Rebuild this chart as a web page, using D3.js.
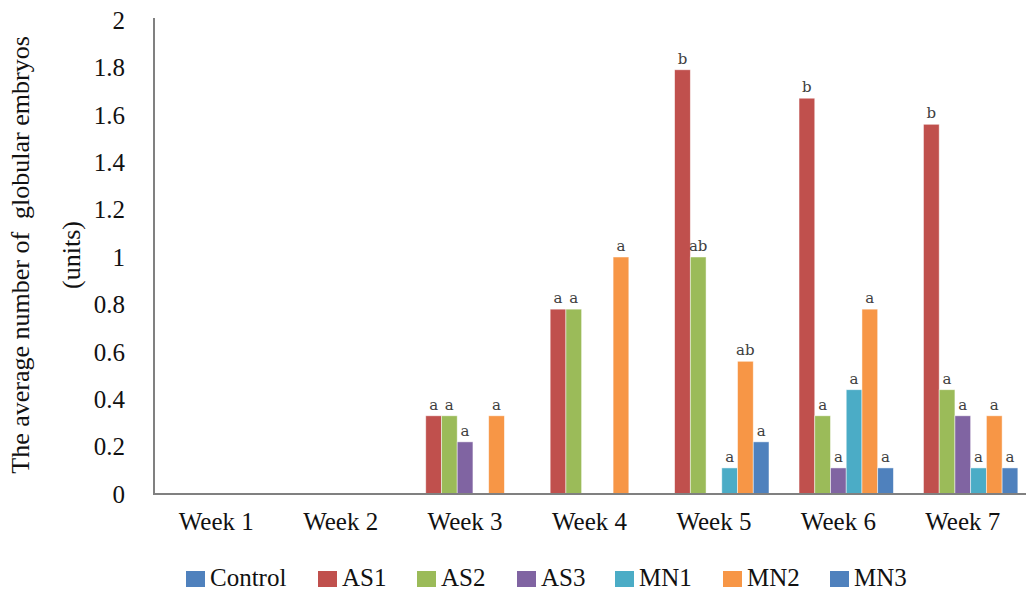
<!DOCTYPE html>
<html><head><meta charset="utf-8">
<script src="https://cdn.jsdelivr.net/npm/d3@7/dist/d3.min.js"></script>
<style>body{margin:0;background:#fff}svg{display:block}
.serif{font-family:"Liberation Serif","Times New Roman",serif}</style>
</head><body>
<svg id="c" width="1026" height="592"></svg>
<script>
const weeks = ["Week 1","Week 2","Week 3","Week 4","Week 5","Week 6","Week 7"];
const series = ["Control","AS1","AS2","AS3","MN1","MN2","MN3"];
const colors = ["#4F81BD","#C0504D","#9BBB59","#8064A2","#4BACC6","#F79646","#4F81BD"];
const Control = [0,0,0,0,0,0,0];
const AS1 = [0,0,0.33,0.78,1.79,1.67,1.56];
const AS2 = [0,0,0.33,0.78,1.0,0.33,0.44];
const AS3 = [0,0,0.22,0,0,0.11,0.33];
const MN1 = [0,0,0,0,0.11,0.44,0.11];
const MN2 = [0,0,0.33,1.0,0.56,0.78,0.33];
const MN3 = [0,0,0,0,0.22,0.11,0.11];
const letters = {
  Control:["","","","","","",""],
  AS1:["","","a","a","b","b","b"],
  AS2:["","","a","a","ab","a","a"],
  AS3:["","","a","","","a","a"],
  MN1:["","","","","a","a","a"],
  MN2:["","","a","a","ab","a","a"],
  MN3:["","","","","a","a","a"]
};
const yTicks = [0,0.2,0.4,0.6,0.8,1,1.2,1.4,1.6,1.8,2];
const values = {Control,AS1,AS2,AS3,MN1,MN2,MN3};

const svg = d3.select("#c");
const x0 = d3.scaleBand().domain(weeks).range([154,1025]).paddingInner(0.115).paddingOuter(0.0575);
const x1 = d3.scaleBand().domain(series).range([0,x0.bandwidth()]);
const y = d3.scaleLinear().domain([0,2]).range([494,20]);
const color = d3.scaleOrdinal().domain(series).range(colors);

const data = [];
weeks.forEach((w,i)=>series.forEach(s=>data.push({w,s,v:values[s][i],l:letters[s][i]})));

const g = svg.append("g");
g.selectAll("rect.bar").data(data.filter(d=>d.v>0)).join("rect")
  .attr("class","bar")
  .attr("x",d=>x0(d.w)+x1(d.s))
  .attr("width",x1.bandwidth())
  .attr("y",d=>y(d.v))
  .attr("height",d=>y(0)-y(d.v))
  .attr("fill",d=>color(d.s))
  .attr("stroke","rgba(255,255,255,0.6)").attr("stroke-width",0.8);

g.selectAll("text.lab").data(data.filter(d=>d.l)).join("text")
  .attr("class","lab")
  .attr("x",d=>x0(d.w)+x1(d.s)+x1.bandwidth()/2)
  .attr("y",d=>y(d.v)-6)
  .attr("text-anchor","middle")
  .style("font-family","'DejaVu Serif', serif")
  .style("font-size","15px")
  .attr("fill","#404040")
  .text(d=>d.l);

// y axis
const yAxis = d3.axisLeft(y).tickValues(yTicks).tickSize(0).tickPadding(0).tickFormat(d3.format("~g"));
const ya = svg.append("g").attr("transform","translate(125,0)").call(yAxis);
ya.select(".domain").remove();
ya.selectAll("text").attr("class","serif").style("font-size","25px").attr("fill","#111").attr("dy","0.33em");

// axis lines
svg.append("line").attr("x1",154).attr("x2",154).attr("y1",18).attr("y2",y(0)).attr("stroke","#808080").attr("stroke-width",2);
const xAxis = d3.axisBottom(x0).tickSize(0).tickPadding(28);
const xa = svg.append("g").attr("transform",`translate(0,${y(0)})`).call(xAxis);
xa.select(".domain").attr("stroke","#808080").attr("stroke-width",2.2).attr("d","M153,0H1026");
xa.selectAll("text").attr("class","serif").style("font-size","25px").attr("fill","#111").attr("dy","0.33em");

// y title
const yt = svg.append("text").attr("class","serif").attr("transform","translate(0,255) rotate(-90)")
  .attr("text-anchor","middle").style("font-size","26px").attr("fill","#111");
yt.append("tspan").attr("x",0).attr("y",29).style("white-space","pre").text("The average number of  globular embryos");
yt.append("tspan").attr("x",0).attr("y",80).text("(units)");

// legend
const legX = [186,318,417,517,615,723,830];
const lg = svg.append("g").selectAll("g").data(series).join("g")
  .attr("transform",(d,i)=>`translate(${legX[i]},578)`);
lg.append("rect").attr("x",0).attr("y",-7).attr("width",19).attr("height",16).attr("fill",d=>color(d));
lg.append("text").attr("class","serif").attr("x",24).attr("y",0).attr("dy","0.33em")
  .style("font-size","25px").attr("fill","#111").text(d=>d);
</script>
</body></html>
